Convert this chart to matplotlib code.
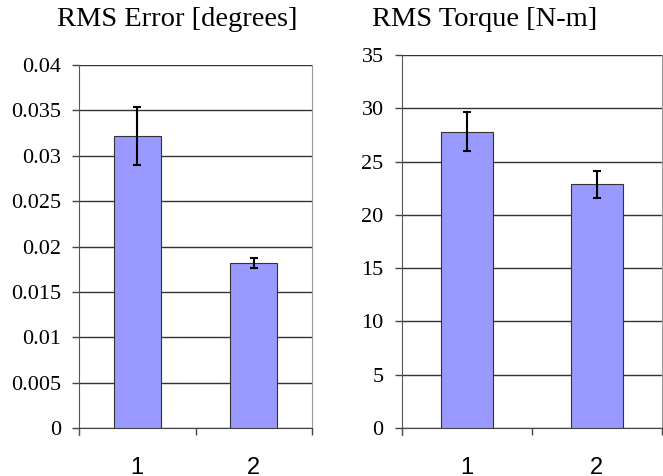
import matplotlib
matplotlib.use("Agg")
import matplotlib.pyplot as plt
import numpy as np

groups = ["1", "2"]

err_vals = [0.0322, 0.0182]
err_sd = [0.0032, 0.00055]
err_ticks = [0, 0.005, 0.01, 0.015, 0.02, 0.025, 0.03, 0.035, 0.04]
err_labels = ["0", "0.005", "0.01", "0.015", "0.02", "0.025", "0.03", "0.035", "0.04"]

torque_vals = [27.8, 22.85]
torque_sd = [1.85, 1.24]
torque_ticks = [0, 5, 10, 15, 20, 25, 30, 35]
torque_labels = ["0", "5", "10", "15", "20", "25", "30", "35"]

plt.rcParams["font.family"] = "Liberation Serif"

W, H = 663, 476
fig = plt.figure(figsize=(W / 100, H / 100), dpi=100)


def style_axes(ax, vals, sd, ticks, labels, top, xmax):
    x = np.arange(1, len(vals) + 1)
    ax.bar(x, vals, width=0.4, color="#9999ff", edgecolor="#333333", linewidth=0.8, zorder=3)
    ax.errorbar(x, vals, yerr=sd, fmt="none", ecolor="black", elinewidth=1.5,
                capsize=3, capthick=1.5, zorder=4)
    ax.set_xlim(0.5, xmax)
    ax.set_ylim(0, top)
    ax.set_yticks(ticks)
    ax.set_yticklabels(labels)
    ax.set_xticks(x)
    ax.set_xticklabels(groups)
    ax.set_xticks([0.5, 1.5, 2.5], minor=True)
    ax.tick_params(axis="x", which="major", length=0, pad=21)
    ax.tick_params(axis="x", which="minor", length=5, width=1, color="#444444", direction="out")
    ax.tick_params(axis="y", length=5, width=1, color="#444444", direction="out", pad=8)
    for t in ax.get_yticklabels():
        t.set_fontfamily("Liberation Serif")
        t.set_fontsize(16)
    for t in ax.get_xticklabels():
        t.set_fontfamily("Liberation Sans")
        t.set_fontsize(17)
    ax.yaxis.grid(True, color="#333333", linewidth=1, zorder=0)
    ax.set_axisbelow(True)
    ax.spines["top"].set_visible(False)
    ax.spines["left"].set_color("#555555")
    ax.spines["bottom"].set_color("#444444")
    ax.spines["right"].set_color("#999999")
    ax.spines["left"].set_bounds(-top * 0.02, top)


ax1 = fig.add_axes([79 / W, 48 / H, (312 - 79) / W, (428 - 65) / H])
style_axes(ax1, err_vals, err_sd, err_ticks, err_labels, 0.04, 2.5)

ax2 = fig.add_axes([401.7 / W, 48 / H, (662 - 401.7) / W, (428 - 55) / H])
style_axes(ax2, torque_vals, torque_sd, torque_ticks, torque_labels, 35, 2.467)

fig.text(177 / W, 1 - 20 / H, "RMS Error [degrees]", ha="center", va="center",
         fontfamily="Liberation Serif", fontsize=20.5)
fig.text(485 / W, 1 - 20 / H, "RMS Torque [N-m]", ha="center", va="center",
         fontfamily="Liberation Serif", fontsize=20.5)

fig.savefig("out.png", dpi=100)
